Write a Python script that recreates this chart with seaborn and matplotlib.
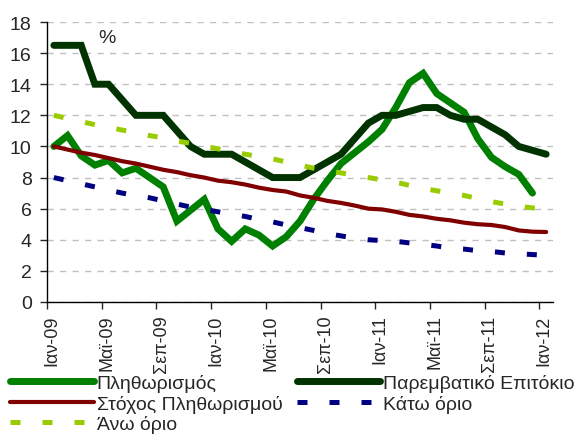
import matplotlib
matplotlib.use("Agg")
import matplotlib.pyplot as plt
import matplotlib.transforms as mtransforms
import seaborn as sns
import numpy as np

months = ["Ιαν-09", "Μαϊ-09", "Σεπ-09", "Ιαν-10", "Μαϊ-10", "Σεπ-10",
          "Ιαν-11", "Μαϊ-11", "Σεπ-11", "Ιαν-12"]

inflation = [10.0, 10.7, 9.4, 8.8, 9.1, 8.3, 8.6, 8.0, 7.4, 5.2, 5.9, 6.6,
             4.7, 3.9, 4.7, 4.3, 3.6, 4.2, 5.2, 6.6, 7.8, 8.9, 9.6, 10.3,
             11.1, 12.5, 14.1, 14.7, 13.4, 12.8, 12.2, 10.5, 9.3, 8.7, 8.2, 7.0]

policy_rate = [16.5, 16.5, 16.5, 14.0, 14.0, 13.0, 12.0, 12.0, 12.0, 11.0, 10.0, 9.5,
               9.5, 9.5, 9.0, 8.5, 8.0, 8.0, 8.0, 8.5, 9.0, 9.5, 10.5, 11.5,
               12.0, 12.0, 12.25, 12.5, 12.5, 12.0, 11.75, 11.75, 11.25, 10.75, 10.0, 9.75,
               9.5]

target = [10.0, 9.8, 9.6, 9.45, 9.25, 9.05, 8.9, 8.7, 8.5, 8.35, 8.15, 8.0,
          7.8, 7.7, 7.55, 7.35, 7.2, 7.1, 6.85, 6.7, 6.5, 6.37, 6.2, 6.0,
          5.95, 5.8, 5.6, 5.5, 5.35, 5.25, 5.1, 5.0, 4.95, 4.82, 4.6, 4.52,
          4.5]

lower = [8.0, 7.8, 7.6, 7.4, 7.2, 7.0, 6.85, 6.7, 6.5, 6.3, 6.1, 5.95,
         5.8, 5.65, 5.5, 5.3, 5.15, 4.95, 4.78, 4.6, 4.4, 4.25, 4.1, 4.0,
         3.95, 3.9, 3.8, 3.7, 3.6, 3.45, 3.4, 3.3, 3.25, 3.15, 3.1, 3.05,
         3.0]

upper = [12.0, 11.8, 11.6, 11.4, 11.25, 11.05, 10.9, 10.7, 10.55, 10.35, 10.2, 10.0,
         9.85, 9.65, 9.5, 9.35, 9.2, 9.0, 8.8, 8.6, 8.45, 8.3, 8.15, 8.0,
         7.85, 7.7, 7.5, 7.3, 7.15, 7.0, 6.85, 6.65, 6.45, 6.3, 6.15, 6.05,
         6.0]

labels = ["Πληθωρισμός", "Παρεμβατικό Επιτόκιο", "Στόχος Πληθωρισμού",
          "Κάτω όριο", "Άνω όριο"]

sns.set_theme(style="white")
plt.rcParams["font.family"] = ["Liberation Sans", "DejaVu Sans"]
FS = 14

fig = plt.figure(figsize=(5.74, 4.39), dpi=100)
ax = fig.add_axes([47 / 574, 1 - 303 / 439, (553 - 47) / 574, (303 - 23) / 439])

dash = (0, (2.0, 4.4))
specs = [
    (inflation, "#008000", 5.0, "-"),
    (policy_rate, "#003300", 5.0, "-"),
    (target, "#800000", 3.0, "-"),
    (lower, "#000080", 3.6, dash),
    (upper, "#99CC00", 3.6, dash),
]
handles = []
for (vals, col, lw, ls), lab in zip(specs, labels):
    sns.lineplot(x=np.arange(len(vals)), y=vals, ax=ax, color=col, linewidth=lw,
                 linestyle=ls, label=lab, solid_capstyle="round",
                 solid_joinstyle="miter", dash_capstyle="butt")
    handles.append(ax.lines[-1])

ax.set_xlim(-0.5, 36.5)
ax.set_ylim(0, 18)
ax.set_yticks(np.arange(0, 19, 2))
ax.set_xticks(np.arange(-0.5, 36, 4))
ax.set_xticklabels(months, rotation=90, fontsize=13)
ax.tick_params(axis="y", labelsize=FS, length=5, width=1, direction="out", left=True, pad=6)
ax.tick_params(axis="x", length=5, width=1, direction="out", bottom=True, pad=4)
offset = mtransforms.ScaledTranslation(5 / 100, 0, fig.dpi_scale_trans)
for lbl in ax.get_xticklabels():
    lbl.set_transform(lbl.get_transform() + offset)
ax.yaxis.grid(True, color="#C0C0C0", linestyle=(0, (4.5, 4.5)), linewidth=1)
ax.xaxis.grid(False)
for s in ["top", "right"]:
    ax.spines[s].set_visible(False)
for s in ["left", "bottom"]:
    ax.spines[s].set_color("black")
    ax.spines[s].set_linewidth(1)
ax.set_xlabel("")
ax.set_ylabel("")
ax.text(3.9, 17.0, "%", fontsize=FS, ha="center", va="center")

order = [0, 2, 4, 1, 3]
ax.legend([handles[i] for i in order], [labels[i] for i in order],
          ncol=2, loc="upper left", bbox_to_anchor=(10 / 574, 1 - 375 / 439),
          bbox_transform=fig.transFigure, frameon=False, fontsize=FS,
          handlelength=4.3, handletextpad=0.15, columnspacing=0.75,
          labelspacing=0.13, borderpad=0, borderaxespad=0)

fig.savefig("out.png", dpi=100)
